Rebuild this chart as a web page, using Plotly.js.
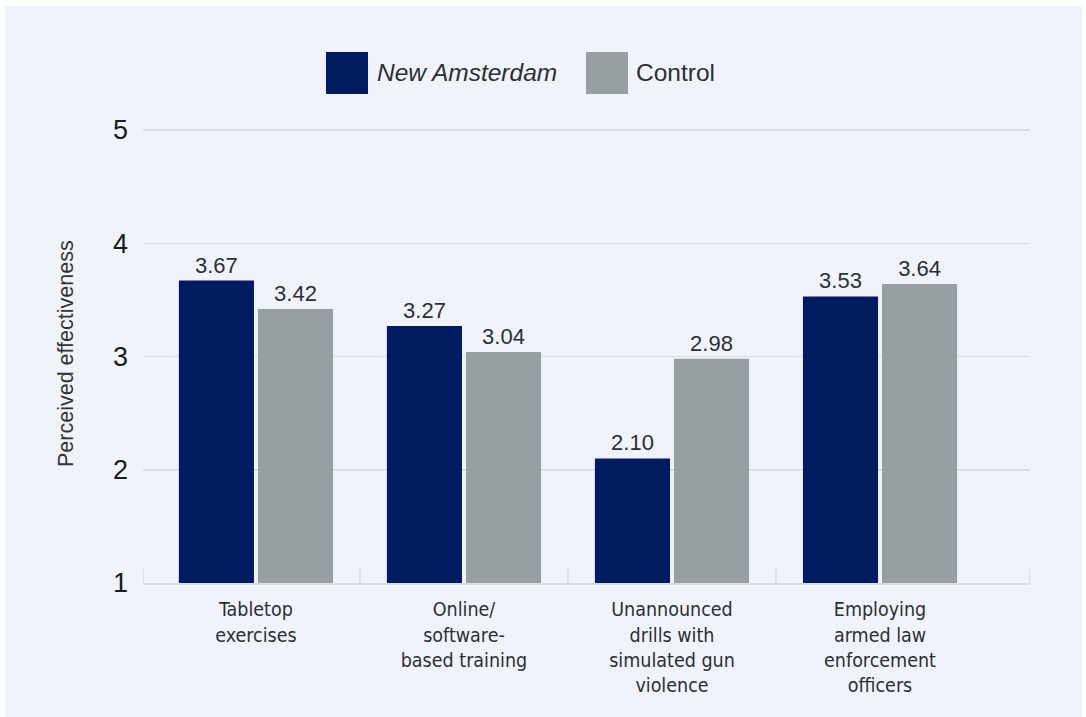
<!DOCTYPE html>
<html>
<head>
<meta charset="utf-8">
<script src="https://cdn.plot.ly/plotly-3.0.1.min.js"></script>
<style>
  html, body { margin: 0; padding: 0; background: #ffffff; }
  #chart { position: absolute; left: 5px; top: 6px; width: 1077px; height: 711px; }
</style>
</head>
<body>
<div id="chart"></div>
<script>
// ---- data ----
const categories = [
  "Tabletop<br>exercises",
  "Online/<br>software-<br>based training",
  "Unannounced<br>drills with<br>simulated gun<br>violence",
  "Employing<br>armed law<br>enforcement<br>officers"
];
const newAmsterdam = [3.67, 3.27, 2.10, 3.53];
const control = [3.42, 3.04, 2.98, 3.64];
const seriesNames = ["New Amsterdam", "Control"];
const yTickVals = [1, 2, 3, 4, 5];
const yTitle = "Perceived effectiveness";

// ---- styling ----
const navy = "#001c5e";
const gray = "#979fa2";
const bg = "#f0f3fb";
const gridCol = "#dcdee3";
const textCol = "#2b2f36";

// plot area in page pixels (for placing legend / decorations)
const PL = 143, PR = 1030, PT = 127, PB = 583;
const unitPx = 113.25;                       // pixels per y unit
const yTop = 1 + (PB - PT) / unitPx;        // top of y range (a little above 5)
const px = X => (X - PL) / (PR - PL);
const py = Y => (PB - Y) / (PB - PT);

const labelFont = { family: "Liberation Sans, Arial, sans-serif", size: 22, color: textCol };
const traces = [
  {
    type: "bar", name: seriesNames[0], x: categories, y: newAmsterdam,
    marker: { color: navy }, base: 0,
    text: newAmsterdam.map(v => v.toFixed(2)), textposition: "outside",
    textfont: labelFont, cliponaxis: false, showlegend: false
  },
  {
    type: "bar", name: seriesNames[1], x: categories, y: control,
    marker: { color: gray }, base: 0,
    text: control.map(v => v.toFixed(2)), textposition: "outside",
    textfont: labelFont, cliponaxis: false, showlegend: false
  }
];

// category boundary ticks
const n = categories.length;
const xMin = -0.543, xMax = n - 1 + 0.721;
const tickXs = [xMin];
for (let i = 0; i < n - 1; i++) tickXs.push(i + 0.5);
tickXs.push(xMax);

const shapes = tickXs.map(x => ({
  type: "line", xref: "x", yref: "paper", x0: x, x1: x, y0: 0, y1: 14 / (PB - PT),
  line: { color: gridCol, width: 2 }, layer: "below"
}));
// legend swatches
shapes.push({ type: "rect", xref: "paper", yref: "paper",
  x0: px(326), x1: px(368), y0: py(94), y1: py(52), fillcolor: navy, line: { width: 0 } });
shapes.push({ type: "rect", xref: "paper", yref: "paper",
  x0: px(586), x1: px(628), y0: py(94), y1: py(52), fillcolor: gray, line: { width: 0 } });

const annotations = [
  { xref: "paper", yref: "paper", x: px(375), y: py(73), xanchor: "left", yanchor: "middle",
    text: "<i>" + seriesNames[0] + "</i>", showarrow: false,
    font: { family: "Liberation Sans, Arial, sans-serif", size: 24.5, color: textCol } },
  { xref: "paper", yref: "paper", x: px(634), y: py(73), xanchor: "left", yanchor: "middle",
    text: seriesNames[1], showarrow: false,
    font: { family: "Liberation Sans, Arial, sans-serif", size: 24.5, color: textCol } },
  { xref: "paper", yref: "paper", x: px(66), y: py(354), xanchor: "center", yanchor: "middle",
    text: yTitle, textangle: -90, showarrow: false,
    font: { family: "Liberation Sans, Arial, sans-serif", size: 21.5, color: "#333" } }
];

const layout = {
  width: 1077, height: 711,
  margin: { l: PL - 5, r: 1082 - PR, t: PT - 6, b: 717 - PB },
  paper_bgcolor: bg, plot_bgcolor: bg,
  barmode: "group", bargap: 0.24, bargroupgap: 0.05,
  showlegend: false,
  xaxis: {
    type: "category", range: [xMin, xMax], fixedrange: true,
    showline: true, linecolor: gridCol, linewidth: 2,
    ticks: "", showgrid: false,
    tickfont: { family: "DejaVu Sans Condensed, Roboto, sans-serif", size: 19.5, color: textCol },
    ticklabelstandoff: 8
  },
  yaxis: {
    range: [1, yTop], tickvals: yTickVals, ticktext: yTickVals.map(String),
    showgrid: true, gridcolor: gridCol, gridwidth: 1.5, zeroline: false,
    showline: false, ticks: "",
    tickfont: { family: "Liberation Sans, Arial, sans-serif", size: 27, color: "#1a1a1a" },
    ticklabelstandoff: 14, fixedrange: true
  },
  shapes: shapes,
  annotations: annotations
};

Plotly.newPlot("chart", traces, layout, { displayModeBar: false, staticPlot: true });
</script>
</body>
</html>
